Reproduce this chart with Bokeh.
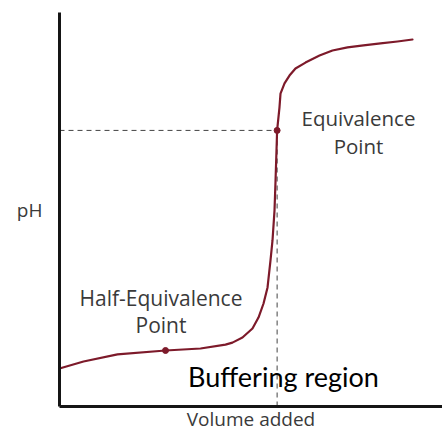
from bokeh.plotting import figure
from bokeh.models import Label, Range1d, FixedTicker
from bokeh.embed import file_html
from bokeh.resources import INLINE

# Titration curve (volume added, pH)
volume = [0.00, 2.76, 6.66, 12.18, 16.20, 19.07, 19.87, 21.02, 22.17, 22.86,
          23.44, 23.90, 24.24, 24.47, 24.70, 24.82, 24.93, 25.0, 25.27, 25.39,
          25.85, 26.42, 27.11, 28.26, 29.87, 31.36, 33.09, 34.92, 36.88,
          38.83, 40.55]
ph = [1.35, 1.60, 1.85, 1.99, 2.06, 2.20, 2.27, 2.45, 2.77, 3.16,
      3.66, 4.23, 5.19, 5.90, 6.96, 8.03, 9.10, 9.81, 10.62, 11.12,
      11.48, 11.76, 12.01, 12.22, 12.47, 12.65, 12.76, 12.83, 12.90,
      12.97, 13.04]

half_eq = (12.18, 1.99)
equiv = (25.0, 9.81)

x_max = 44
y_max = 14

curve_color = "#7d1a2a"
text_color = "#3a3a3a"
font = "Open Sans"

p = figure(width=442, height=435, output_backend="svg", toolbar_location=None,
           x_range=Range1d(0, x_max), y_range=Range1d(0, y_max),
           min_border_left=59, min_border_right=0, min_border_top=12,
           min_border_bottom=29)
p.outline_line_color = None
p.grid.visible = False
p.background_fill_color = "white"
p.border_fill_color = "white"

for ax in (p.xaxis[0], p.yaxis[0]):
    ax.ticker = FixedTicker(ticks=[])
    ax.axis_line_width = 3
    ax.axis_line_color = "#151515"
    ax.major_tick_line_color = None
    ax.minor_tick_line_color = None
    ax.major_tick_out = 0
    ax.major_label_standoff = 0
    ax.axis_label_text_font = font
    ax.axis_label_text_font_size = "19px"
    ax.axis_label_text_font_style = "normal"
    ax.axis_label_text_color = text_color

p.xaxis.axis_label = "Volume added"
p.xaxis.axis_label_standoff = -1
p.yaxis.axis_label = "pH"
p.yaxis.axis_label_orientation = "horizontal"
p.yaxis.axis_label_standoff = 17

# dashed guide lines to equivalence point
p.line([0, equiv[0]], [equiv[1], equiv[1]], line_color="#444444",
       line_width=1, line_dash="5 4")
p.line([equiv[0], equiv[0]], [0, equiv[1]], line_color="#444444",
       line_width=1, line_dash="5 4")

p.line(volume, ph, line_color=curve_color, line_width=2.2,
       line_join="round", line_cap="round")
p.scatter([half_eq[0], equiv[0]], [half_eq[1], equiv[1]], size=6,
          color=curve_color)


def lab(x, y, text, size, color=text_color, fnt=font, align="center"):
    p.add_layout(Label(x=x, y=y, text=text, text_font=fnt,
                       text_font_size=size, text_color=color,
                       text_align=align, text_baseline="middle"))


lab(34.35, 10.26, "Equivalence", "20.5px")
lab(34.35, 9.27, "Point", "20.5px")
lab(11.66, 3.87, "Half-Equivalence", "21px")
lab(11.66, 2.88, "Point", "21px")
lab(25.73, 1.06, "Buffering region", "27px", color="#000000", fnt="Lato")

open("out.html", "w").write(file_html(p, INLINE))
